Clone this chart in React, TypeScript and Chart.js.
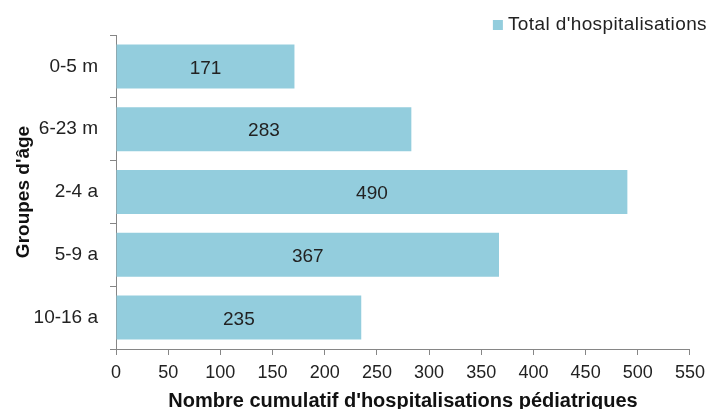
import React, { useEffect, useRef } from "react";
import { Chart, registerables } from "chart.js";

Chart.register(...registerables);

const categories = ["0-5 m", "6-23 m", "2-4 a", "5-9 a", "10-16 a"];
const totals = [171, 283, 490, 367, 235];
const seriesLabel = "Total d'hospitalisations";
const xTitle = "Nombre cumulatif d'hospitalisations pédiatriques";
const yTitle = "Groupes d'âge";

const FONT = "'Liberation Sans', Arial, sans-serif";
const BAR_COLOR = "#93CDDD";
const AXIS_COLOR = "#868686";

const barLabels = {
  id: "barLabels",
  afterDatasetsDraw(chart: any) {
    const ctx = chart.ctx;
    const meta = chart.getDatasetMeta(0);
    const data = chart.data.datasets[0].data as number[];
    ctx.save();
    ctx.font = `19px ${FONT}`;
    ctx.fillStyle = "#222";
    ctx.textAlign = "center";
    ctx.textBaseline = "middle";
    meta.data.forEach((el: any, i: number) => {
      const x = (el.x + el.base) / 2;
      ctx.fillText(String(data[i]), x, el.y + 2);
    });
    ctx.restore();
  },
};

const customLegend = {
  id: "customLegend",
  afterDraw(chart: any) {
    const ctx = chart.ctx;
    const ds = chart.data.datasets[0];
    const right = chart.width - 5;
    ctx.save();
    ctx.font = `19px ${FONT}`;
    try {
      (ctx as any).letterSpacing = "0.4px";
    } catch (e) {}
    const w = ctx.measureText(ds.label).width;
    const textX = right - w;
    const boxSize = 10;
    const boxX = textX - 5 - boxSize;
    const cy = 25;
    ctx.fillStyle = ds.backgroundColor;
    ctx.fillRect(boxX, cy - boxSize / 2, boxSize, boxSize);
    ctx.fillStyle = "#222";
    ctx.textAlign = "left";
    ctx.textBaseline = "middle";
    ctx.fillText(ds.label, textX, cy);
    ctx.restore();
  },
};

export default function App() {
  const ref = useRef<HTMLCanvasElement>(null);
  useEffect(() => {
    if (!ref.current) return;
    const chart = new Chart(ref.current, {
      type: "bar",
      data: {
        labels: categories,
        datasets: [
          {
            label: seriesLabel,
            data: totals,
            backgroundColor: BAR_COLOR,
            borderWidth: 0,
            categoryPercentage: 1,
            barPercentage: 0.7,
          },
        ],
      },
      options: {
        indexAxis: "y",
        animation: false,
        responsive: true,
        maintainAspectRatio: false,
        layout: { padding: { top: 35, right: 22, left: 12, bottom: 0 } },
        plugins: {
          legend: { display: false },
          tooltip: { enabled: false },
        },
        scales: {
          x: {
            min: 0,
            max: 550,
            afterFit: (scale: any) => {
              scale.height = 60;
            },
            ticks: {
              stepSize: 50,
              font: { family: FONT, size: 18 },
              color: "#222",
              padding: 7,
              maxRotation: 0,
            },
            grid: {
              drawOnChartArea: false,
              drawTicks: true,
              tickLength: 6,
              color: AXIS_COLOR,
            },
            border: { display: true, color: AXIS_COLOR, width: 1 },
            title: {
              display: true,
              text: xTitle,
              font: { family: FONT, size: 20, weight: "bold" },
              color: "#111",
              padding: { top: 0, bottom: -4 },
            },
          },
          y: {
            offset: true,
            afterFit: (scale: any) => {
              scale.width = 104;
            },
            ticks: {
              font: { family: FONT, size: 19 },
              color: "#222",
              padding: 12,
            },
            grid: {
              offset: true,
              drawOnChartArea: false,
              drawTicks: true,
              tickLength: 6,
              color: AXIS_COLOR,
            },
            border: { display: true, color: AXIS_COLOR, width: 1 },
            title: {
              display: true,
              text: yTitle,
              font: { family: FONT, size: 19, weight: "bold" },
              color: "#111",
              padding: { top: 0, bottom: 0 },
            },
          },
        },
      },
      plugins: [barLabels, customLegend],
    });
    return () => chart.destroy();
  }, []);
  return (
    <div style={{ position: "fixed", left: 0, top: 0, width: 712, height: 409, background: "#fff" }}>
      <canvas ref={ref} />
    </div>
  );
}
